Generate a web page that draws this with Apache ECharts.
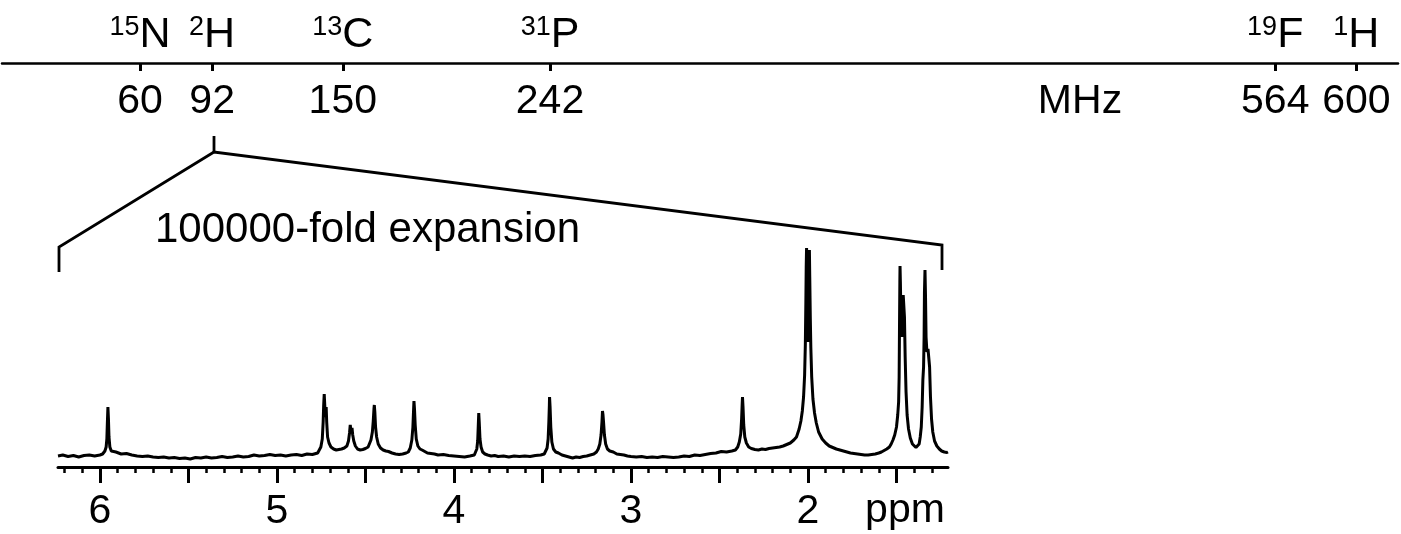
<!DOCTYPE html>
<html>
<head>
<meta charset="utf-8">
<script src="https://cdn.jsdelivr.net/npm/echarts@6/dist/echarts.min.js"></script>
<style>
html,body{margin:0;padding:0;background:#fff;}
#c{width:1401px;height:534px;}
</style>
</head>
<body>
<div id="c"></div>
<script>
// ---- data ----
const mhzTicks = [60, 92, 150, 242, 564, 600];
const nucleiMass = ['15', '2', '13', '31', '19', '1'];
const nucleiSymbol = ['N', 'H', 'C', 'P', 'F', 'H'];
const ppmMajorTicks = [1.5, 2, 2.5, 3, 3.5, 4, 4.5, 5, 5.5, 6];
const ppmLabels = [2, 3, 4, 5, 6];
const ppmMinorTicks = [1.3,1.4,1.6,1.7,1.8,1.9,2.1,2.2,2.3,2.4,2.6,2.7,2.8,2.9,3.1,3.2,3.3,3.4,3.6,3.7,3.8,3.9,4.1,4.2,4.3,4.4,4.6,4.7,4.8,4.9,5.1,5.2,5.3,5.4,5.6,5.7,5.8,5.9,6.1,6.2];

const ppm = [
6.237,6.21,6.18,6.15,6.12,6.09,6.06,6.03,6.0,
5.985,5.972,5.965,5.961,5.958,5.955,5.952,5.949,5.944,5.936,5.925,5.91,
5.88,5.85,5.82,5.79,5.76,5.73,5.70,5.67,5.64,5.61,5.58,5.55,5.52,5.49,5.46,5.43,5.40,5.37,5.34,5.31,5.28,5.25,5.22,5.19,5.16,5.13,5.10,5.07,5.04,5.01,4.98,4.95,4.92,4.89,4.86,4.83,4.80,4.77,
4.765,4.752,4.744,4.739,4.736,4.733,4.73,4.727,4.724,4.722,4.719,4.714,4.706,4.695,4.68,4.665,4.65,4.635,4.62,
4.605,4.596,4.590,4.586,4.582,4.579,4.576,4.572,4.566,4.557,4.545,4.53,4.515,4.50,4.485,
4.478,4.469,4.461,4.456,4.452,4.45,4.447,4.443,4.437,4.428,4.415,4.40,4.385,4.37,4.35,4.33,4.31,4.29,4.27,
4.258,4.247,4.238,4.232,4.228,4.226,4.223,4.219,4.213,4.204,4.192,4.18,4.165,4.15,4.13,4.11,4.09,4.06,4.03,4.00,3.97,3.94,3.91,3.885,
3.878,3.871,3.866,3.863,3.86,3.857,3.853,3.847,3.838,3.825,3.81,3.79,3.77,3.75,3.72,3.69,3.66,3.63,3.60,3.57,3.54,3.51,3.49,
3.482,3.474,3.468,3.464,3.461,3.46,3.457,3.453,3.447,3.438,3.425,3.41,3.39,3.37,3.35,3.33,3.31,3.29,3.27,3.25,3.23,3.21,3.195,
3.185,3.176,3.169,3.164,3.161,3.158,3.155,3.15,3.143,3.133,3.12,3.10,3.08,3.06,3.04,3.02,3.00,2.97,2.94,2.91,2.88,2.85,2.82,2.79,2.76,2.73,2.70,2.67,2.64,2.61,2.58,2.55,2.52,2.49,2.46,2.43,2.41,
2.397,2.388,2.38,2.375,2.372,2.37,2.367,2.363,2.357,2.348,2.335,2.32,2.30,2.28,2.26,2.24,2.22,2.20,2.18,2.16,2.14,2.12,2.10,2.08,2.065,
2.05,2.04,2.032,2.025,2.019,2.015,2.012,2.01,2.008,2.005,2.002,2.0,1.998,1.995,1.992,1.99,1.987,1.984,1.979,1.972,1.963,1.953,1.94,1.92,1.90,1.88,1.86,1.84,1.82,1.80,1.78,1.76,1.74,1.72,1.70,1.68,1.66,1.64,1.62,1.60,1.585,1.57,1.555,1.54,1.53,
1.52,1.51,1.50,1.493,1.488,1.485,1.483,1.481,1.48,1.478,1.475,1.47,1.466,1.462,1.458,1.455,1.451,1.446,1.44,1.432,1.422,1.41,1.40,1.39,1.38,1.372,
1.366,1.36,1.355,1.351,1.347,1.344,1.342,1.339,1.336,1.333,1.328,1.322,1.317,1.313,1.308,1.302,1.295,1.285,1.272,1.258,1.245,1.23,1.215,1.209
];
const intensity = [
11,12,10.5,11.5,10,11.5,12,11,12,
13,16,20,28,45,60,48,30,20,16,14,15,
13,13.5,12,11,10.5,11,10,9.5,10,9,9.5,8.5,9,8,9.5,9,10,9,9.5,10.5,9.5,10,11,10,10.5,12,11,11.5,12.5,11.5,12,11,12,12.5,11.5,13,12.5,14,
16,20,28,45,62,73,62,50,55,60,45,30,24,20,18,17,17.5,18,19,
21,26,34,42,36,34,39,32,26,21,18,17,17.5,18.5,20,
22,27,35,46,58,62,55,40,30,23,19,17,16,15.5,14,13,12.5,13,14,
15,19,27,40,58,66,58,42,28,21,18,17,15.5,14,13.5,13,12,12.5,11.5,11,10.5,10,11,12,
14,18,26,40,54,44,28,20,15,13,12,11,11.5,10.5,11,10,11,10.5,11,10.5,11.5,12,13,
15,19,28,45,62,70,60,40,25,18,15,14,12,11,10,9,10,9.5,10.5,11,12,13,15,
18,23,32,45,56,52,45,32,23,18,16,15,13,12.5,12,11,10.5,10,10.5,9.5,10,9.5,10.5,10,9.5,10,11,10.5,12,11.5,12.5,13.5,14,15.5,15,16,17,
20,25,33,48,62,70,60,42,30,24,20,18.5,17.5,17,18,17.5,18.5,19,19.5,20,21,22.5,24,27,30,
38,46,56,70,92,122,165,200,219,195,150,125,150,192,217,190,150,120,90,68,54,44,35,28,24,21,19.5,18,17,16,15,14,13.5,13,12.5,12,12,12.5,13,14,15,16.5,18,20,23,
27,32,40,52,65,90,140,185,201,185,150,130,150,172,174,150,110,75,52,38,29,23,21,19.5,20,23,
30,40,60,87,100,130,175,197,170,130,115,118,120,100,70,48,35,26,21,18,16,15,14.5,15
];
const ppmMin = 1.209, ppmMax = 6.237;

const FONT = "'Liberation Sans', Arial, Helvetica, sans-serif";
const spectrum = ppm.map((p, i) => [p, intensity[i]]);

const chart = echarts.init(document.getElementById('c'), null, {renderer: 'canvas'});
chart.setOption({
  animation: false,
  backgroundColor: '#ffffff',
  grid: [
    {left: 2, right: 3, top: 20, height: 43},
    {left: 58, right: 453, top: 237, bottom: 67}
  ],
  xAxis: [
    {
      gridIndex: 0, type: 'value', min: -1.3, max: 618.5, position: 'bottom',
      axisLine: {show: true, lineStyle: {color: '#000', width: 2.5}},
      axisTick: {show: true, customValues: mhzTicks, length: 8, lineStyle: {color: '#000', width: 3}},
      axisLabel: {show: true, customValues: mhzTicks, margin: 18, fontSize: 41, fontFamily: FONT, color: '#000'},
      splitLine: {show: false}
    },
    {
      gridIndex: 0, type: 'value', min: -1.3, max: 618.5, position: 'bottom',
      axisLine: {show: false}, axisTick: {show: false}, splitLine: {show: false},
      axisLabel: {
        show: true, inside: true, customValues: mhzTicks, margin: 6, color: '#000',
        formatter: function (v) {
          const i = mhzTicks.indexOf(v);
          return '{s|' + nucleiMass[i] + '}{m|' + nucleiSymbol[i] + '}';
        },
        rich: {
          s: {fontSize: 27, fontFamily: FONT, color: '#000', verticalAlign: 'top', lineHeight: 43},
          m: {fontSize: 43, fontFamily: FONT, color: '#000', lineHeight: 43}
        }
      }
    },
    {
      gridIndex: 1, type: 'value', inverse: true, min: ppmMin, max: ppmMax, position: 'bottom',
      axisLine: {show: true, lineStyle: {color: '#000', width: 3}},
      axisTick: {show: true, customValues: ppmMajorTicks, length: 16, lineStyle: {color: '#000', width: 3}},
      axisLabel: {show: true, customValues: ppmLabels, margin: 24, fontSize: 41, fontFamily: FONT, color: '#000'},
      splitLine: {show: false}
    },
    {
      gridIndex: 1, type: 'value', inverse: true, min: ppmMin, max: ppmMax, position: 'bottom',
      axisLine: {show: false},
      axisTick: {show: true, customValues: ppmMinorTicks, length: 6, lineStyle: {color: '#000', width: 2.5}},
      axisLabel: {show: false}, splitLine: {show: false}
    }
  ],
  yAxis: [
    {gridIndex: 0, type: 'value', show: false, min: 0, max: 1},
    {gridIndex: 1, type: 'value', show: false, min: 0, max: 230}
  ],
  series: [{
    type: 'line', xAxisIndex: 2, yAxisIndex: 1, data: spectrum,
    showSymbol: false, smooth: false,
    lineStyle: {color: '#000', width: 3},
    clip: false
  }],
  graphic: [
    {type: 'polyline', shape: {points: [[59, 272], [59, 247], [214, 152], [942, 245], [942, 270]]},
     style: {stroke: '#000', lineWidth: 2.8, fill: null}},
    {type: 'line', shape: {x1: 214, y1: 136, x2: 214, y2: 152}, style: {stroke: '#000', lineWidth: 2.8}},
    {type: 'text', style: {text: '100000-fold expansion', x: 155, y: 230, font: '42px ' + FONT, fill: '#000',
      textAlign: 'left', textVerticalAlign: 'middle', align: 'left', verticalAlign: 'middle'}},
    {type: 'text', style: {text: 'MHz', x: 1080, y: 102, font: '41px ' + FONT, fill: '#000',
      textAlign: 'center', textVerticalAlign: 'middle', align: 'center', verticalAlign: 'middle'}},
    {type: 'text', style: {text: 'ppm', x: 905, y: 511, font: '41px ' + FONT, fill: '#000',
      textAlign: 'center', textVerticalAlign: 'middle', align: 'center', verticalAlign: 'middle'}}
  ]
});
</script>
</body>
</html>
